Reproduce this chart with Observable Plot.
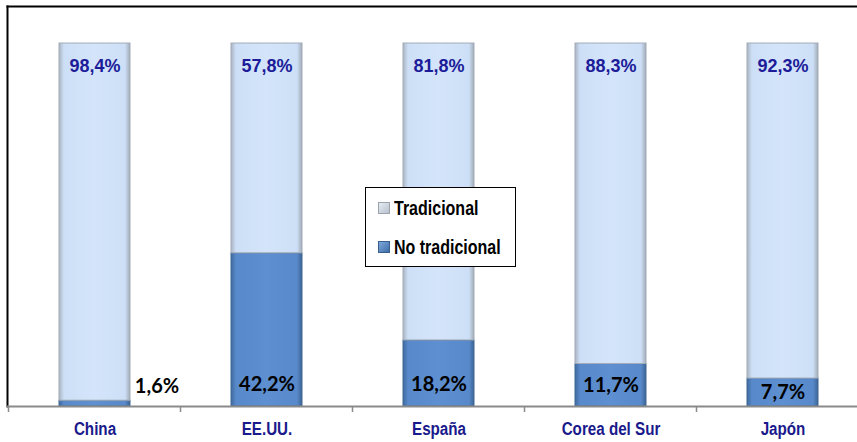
<!DOCTYPE html>
<html>
<head>
<meta charset="utf-8">
<script src="https://cdn.jsdelivr.net/npm/d3@7"></script>
<script src="https://cdn.jsdelivr.net/npm/@observablehq/plot@0.6"></script>
<style>
  html, body { margin: 0; padding: 0; background: #fff; }
  #wrap { position: relative; width: 857px; height: 442px; overflow: hidden; }
  #legend {
    position: absolute; left: 365px; top: 187px; width: 149px; height: 78px;
    background: #fff; border: 1px solid #000; box-sizing: content-box;
    font-family: "Liberation Sans", Arial, sans-serif;
    font-weight: bold; font-size: 20px; color: #000; white-space: nowrap;
  }
  .item { position: absolute; left: 12px; display: flex; align-items: center; height: 20px; white-space: nowrap; }
  .item span { display: inline-block; transform: scaleX(0.8); transform-origin: left center; }
  .sw { width: 12px; height: 12px; margin-right: 4px; box-sizing: border-box; flex: none; }
  .sw.t { background: linear-gradient(135deg, #e6ebf2, #b9c2ce); border: 1px solid #9aa3ae; }
  .sw.n { background: linear-gradient(135deg, #7fa9dc, #3e6ea8); border: 1px solid #3a5f8c; }
</style>
</head>
<body>
<div id="wrap"></div>
<script>
const categories = ["China", "EE.UU.", "España", "Corea del Sur", "Japón"];
const tradicional = [98.4, 57.8, 81.8, 88.3, 92.3];
const noTradicional = [1.6, 42.2, 18.2, 11.7, 7.7];
const labelsTrad = ["98,4%", "57,8%", "81,8%", "88,3%", "92,3%"];
const labelsNoTrad = ["1,6%", "42,2%", "18,2%", "11,7%", "7,7%"];

const rows = [
  ...categories.map((c, i) => ({pais: c, tipo: "No tradicional", valor: noTradicional[i], label: labelsNoTrad[i]})),
  ...categories.map((c, i) => ({pais: c, tipo: "Tradicional", valor: tradicional[i], label: labelsTrad[i]}))
];
const rowsTrad = rows.filter(d => d.tipo === "Tradicional");
const rowsNo = rows.filter(d => d.tipo === "No tradicional");

const chart = Plot.plot({
  width: 857,
  height: 442,
  marginLeft: 7,
  marginRight: 0,
  marginTop: 6,
  marginBottom: 36,
  style: {background: "#fff", overflow: "visible"},
  x: {domain: categories, range: [7, 869.5], paddingInner: 0.59, paddingOuter: 0.295, align: 0.5, axis: null, label: null},
  y: {domain: [0, 110.2], axis: null, label: null},
  marks: [
    Plot.frame({anchor: "left", stroke: "#000", strokeWidth: 2}),
    Plot.frame({anchor: "top", stroke: "#000", strokeWidth: 2}),
    Plot.barY(rows, {
      x: "pais", y: "valor",
      fill: d => d.tipo === "Tradicional" ? "url(#gLight)" : "url(#gDark)",
      stroke: d => d.tipo === "Tradicional" ? "#a3acb8" : "#3f6896",
      strokeWidth: 1
    }),
    Plot.ruleY([0], {stroke: "#8a8a8a", strokeWidth: 2}),
    Plot.axisX({
      tickSize: 0, tickPadding: 15, label: null, className: "cat-axis",
      fontFamily: '"Liberation Sans", Arial, sans-serif', fontWeight: "bold", fontSize: 19, fill: "#1a1a8c"
    }),
    Plot.text(rowsTrad, {
      x: "pais", y: d => 100, dy: 23, text: "label",
      fontFamily: '"Liberation Sans", Arial, sans-serif', fontWeight: "bold", fontSize: 18, fill: "#1c1c99"
    }),
    Plot.text(rowsNo.filter(d => d.valor >= 5), {
      x: "pais", y: d => Math.min(d.valor / 2, 6), text: "label",
      fontFamily: 'Lato, "Open Sans", sans-serif', fontWeight: "bold", fontSize: 20, fill: "#000"
    }),
    Plot.text(rowsNo.filter(d => d.valor < 5), {
      x: "pais", y: d => 5.6, dx: 62, text: "label",
      fontFamily: 'Lato, "Open Sans", sans-serif', fontWeight: "bold", fontSize: 20, fill: "#000"
    })
  ]
});

// gradients
const svg = d3.select(chart);
const defs = svg.insert("defs", ":first-child");
function grad(id, stops) {
  const g = defs.append("linearGradient").attr("id", id).attr("x1", "0").attr("x2", "1").attr("y1", "0").attr("y2", "0");
  stops.forEach(([o, c]) => g.append("stop").attr("offset", o).attr("stop-color", c));
}
grad("gLight", [["0", "#aab4c2"], ["0.07", "#cddff6"], ["0.5", "#d4e5fb"], ["0.93", "#cddff6"], ["1", "#a1abb8"]]);
grad("gDark", [["0", "#3f6a9e"], ["0.07", "#5889ca"], ["0.5", "#5d8fd1"], ["0.93", "#5889ca"], ["1", "#3d6594"]]);

// narrow (condensed) look for category labels
svg.selectAll("g.cat-axis text").each(function() {
  const t = this.getAttribute("transform") || "";
  this.setAttribute("transform", t + " scale(0.8,1)");
});

// category boundary ticks below the axis
const xs = chart.scale("x");
const y0 = chart.scale("y").apply(0);
const bounds = categories.map(c => xs.apply(c) + xs.bandwidth / 2 - xs.step / 2);
bounds.push(bounds[bounds.length - 1] + xs.step);
svg.append("g").attr("stroke", "#8a8a8a").attr("stroke-width", 1.5)
  .selectAll("line").data(bounds).join("line")
  .attr("x1", d => d).attr("x2", d => d).attr("y1", y0).attr("y2", y0 + 6);

const wrap = document.getElementById("wrap");
wrap.appendChild(chart);

const legend = document.createElement("div");
legend.id = "legend";
legend.innerHTML =
  '<div class="item" style="top:10px"><div class="sw t"></div><span>Tradicional</span></div>' +
  '<div class="item" style="top:49px"><div class="sw n"></div><span>No tradicional</span></div>';
wrap.appendChild(legend);
</script>
</body>
</html>
